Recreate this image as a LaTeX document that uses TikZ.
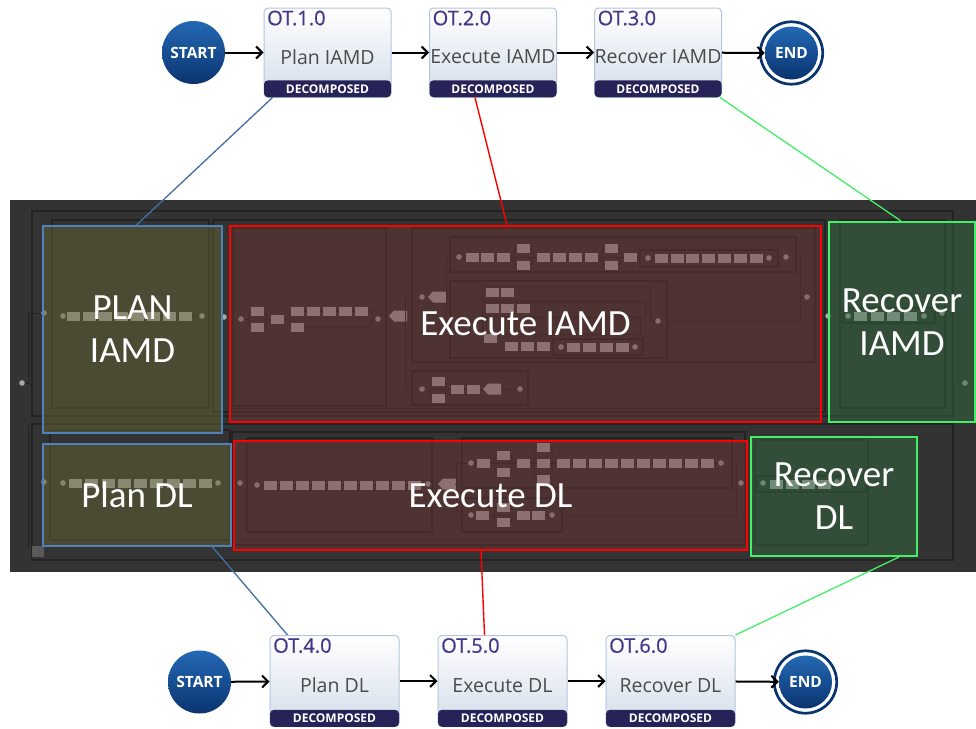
\documentclass[tikz,border=0pt]{standalone}
\usepackage{fontspec}
\setmainfont{Open Sans}
\newfontfamily\calibfont{Carlito}
\newfontfamily\idfont{Open Sans}[FakeBold=0.7]
\usetikzlibrary{arrows.meta,calc}

\definecolor{panelbg}{HTML}{333333}
\definecolor{frameln}{HTML}{232323}
\definecolor{chipc}{HTML}{B0B0B0}
\definecolor{dotc}{HTML}{A8A8A8}
\definecolor{olivetint}{RGB}{100,100,52}
\definecolor{maroontint}{RGB}{108,52,52}
\definecolor{greentint}{RGB}{52,106,62}
\definecolor{planblue}{HTML}{4F81BD}
\definecolor{execred}{HTML}{FF0000}
\definecolor{recgreen}{HTML}{44EE66}
\definecolor{boxedge}{HTML}{B4C6DC}
\definecolor{boxbot}{HTML}{D3DDEA}
\definecolor{idpurple}{HTML}{44388C}
\definecolor{lblgray}{HTML}{4A4A4A}
\definecolor{bandnavy}{HTML}{272358}
\definecolor{evdark}{HTML}{0A3470}
\definecolor{evlight}{HTML}{2468B4}

\newcommand\pchip[2]{\fill[chipc] ({#1-6.5},{#2-4.5}) rectangle ++(13,9);}
\newcommand\pdot[2]{\fill[dotc] (#1,#2) circle[radius=2.8pt];}
\newcommand\ptag[2]{\fill[chipc] ({#1-9},#2) -- ({#1-4},{#2-5.5}) -- ({#1+9},{#2-5.5}) -- ({#1+9},{#2+5.5}) -- ({#1-4},{#2+5.5}) -- cycle;}

\tikzset{
  otbox/.style={draw=boxedge, line width=1pt, rounded corners=4pt, top color=white,
    bottom color=boxbot, minimum width=127pt, minimum height=89pt, inner sep=0pt},
  otband/.style={fill=bandnavy, rounded corners=4pt, minimum width=127pt, minimum height=17pt,
    inner sep=0pt, text=white, font=\fontsize{12}{12}\selectfont\bfseries},
  otid/.style={text=idpurple, inner sep=0pt, font=\idfont\fontsize{20}{22}\selectfont},
  otlbl/.style={text=lblgray, inner sep=0pt, font=\fontsize{19.5}{22}\selectfont},
  startev/.style={circle, inner sep=0pt, minimum size=63pt, top color=evlight, bottom color=evdark,
    text=white, font=\fontsize{15.5}{16}\selectfont\bfseries},
  endev/.style={circle, inner sep=0pt, minimum size=53pt, top color=evlight, bottom color=evdark,
    text=white, font=\fontsize{15.5}{16}\selectfont\bfseries},
  flow/.style={line width=2pt, -{Straight Barb[length=6pt,width=12pt]}},
  frm/.style={draw=frameln, line width=1.1pt},
  lnk/.style={draw=frameln, line width=1pt},
  ovl/.style={fill opacity=0.5, text opacity=1, text=white, align=center, inner sep=0pt,
    font=\calibfont\fontsize{37}{43}\selectfont},
  ovplan/.style={ovl, fill=olivetint, draw=planblue, draw opacity=1, line width=1.5pt},
  ovexec/.style={ovl, fill=maroontint, draw=execred, draw opacity=1, line width=2pt},
  ovrec/.style={ovl, fill=greentint, draw=recgreen, draw opacity=1, line width=2pt},
  linkblue/.style={draw=planblue!85!black, line width=1.3pt},
  linkred/.style={draw=execred, line width=1.4pt},
  linkgreen/.style={draw=recgreen, line width=1.3pt},
}

\begin{document}
\begin{tikzpicture}[x=1pt,y=-1pt]
\useasboundingbox (0,0) rectangle (976,728);
\fill[white] (0,0) rectangle (976,728);

% ---------- upper flow ----------
\node[startev] (s1) at (193.5,52.5) {START};
\node[otbox] (ot1) at (327.5,52.5) {};
\node[otbox] (ot2) at (493,52.5) {};
\node[otbox] (ot3) at (658,52.5) {};
\node[endev] (e1) at (791.5,53) {END};
\draw[evdark, line width=2.7pt] (e1.center) circle[radius=31.2pt];

\foreach \b/\id/\lbl in {ot1/OT.1.0/Plan IAMD, ot2/OT.2.0/Execute IAMD, ot3/OT.3.0/Recover IAMD}{
  \node[otband, anchor=south] (\b band) at (\b.south) {DECOMPOSED};
  \node[otid, anchor=north west] (\b id) at ([xshift=3.5pt,yshift=-3pt]\b.north west) {\id};
  \node[otlbl] (\b lbl) at ([yshift=-4.5pt]\b.center) {\lbl};
}
\draw[flow] (s1) -- (ot1);
\draw[flow] (ot1) -- (ot2);
\draw[flow] (ot2) -- (ot3);
\draw[flow] (ot3) -- (e1);

% ---------- lower flow ----------
\node[startev] (s2) at (199.5,682) {START};
\node[otbox, minimum width=129pt, minimum height=91pt] (ot4) at (334.5,681) {};
\node[otbox, minimum width=129pt, minimum height=91pt] (ot5) at (502.5,681) {};
\node[otbox, minimum width=129pt, minimum height=91pt] (ot6) at (670.5,681) {};
\node[endev] (e2) at (805.5,682) {END};
\draw[evdark, line width=2.7pt] (e2.center) circle[radius=31.2pt];

\foreach \b/\id/\lbl in {ot4/OT.4.0/Plan DL, ot5/OT.5.0/Execute DL, ot6/OT.6.0/Recover DL}{
  \node[otband, anchor=south, minimum width=129pt] (\b band) at (\b.south) {DECOMPOSED};
  \node[otid, anchor=north west] (\b id) at ([xshift=3.5pt,yshift=-3pt]\b.north west) {\id};
  \node[otlbl] (\b lbl) at ([yshift=-4.5pt]\b.center) {\lbl};
}
\draw[flow] (s2) -- (ot4);
\draw[flow] (ot4) -- (ot5);
\draw[flow] (ot5) -- (ot6);
\draw[flow] (ot6) -- (e2);

% ---------- process model panel ----------
\fill[panelbg] (10,200) rectangle (976,572);

% frames of the nested sub-processes
\draw[frm] (32,211) rectangle (953,416);
\draw[frm] (32,424) rectangle (953,560);
\draw[frm] (52,220) rectangle (209,408);
\draw[frm] (213,220) rectangle (825,412);
\draw[frm] (233,228) rectangle (386,406);
\draw[frm] (412,228) rectangle (815,362);
\draw[frm] (450,237) rectangle (796,272);
\draw[frm] (640,250) rectangle (778,267);
\draw[frm] (450,281) rectangle (667,358);
\draw[frm] (553,339) rectangle (643,355);
\draw[frm] (412,371) rectangle (528,405);
\draw[frm] (840,220) rectangle (945,408);
\draw[frm] (843,308) rectangle (935,323);
\draw[frm] (50,430) rectangle (230,540);
\draw[frm] (232,432) rectangle (745,545);
\draw[frm] (247,438) rectangle (432,532);
\draw[frm] (462,438) rectangle (732,488);
\draw[frm] (462,498) rectangle (562,532);
\draw[frm] (755,440) rectangle (868,545);
\draw[frm] (757,476) rectangle (866,492);
\draw[lnk] (230,408) -- (822,408);
\draw[lnk] (230,415) -- (822,415);
\draw[lnk] (232,540) -- (745,540);

% start of the whole model
\draw[lnk] (22,383) -- (28,383) -- (28,313) -- (44,313);
\draw[lnk] (28,425) -- (28,548);
\pdot{22}{383}

% plan IAMD row
\draw[lnk] (63,316) -- (202,316);
\pdot{44}{313}\pdot{63}{316}
\foreach \x in {73,89,105,121,137,153,169,185}{\pchip{\x}{316}}
\pdot{202}{316}\pdot{224}{317}

% execute IAMD, first block
\draw[lnk] (241,319) -- (249,319);
\draw[lnk, rounded corners=3pt] (249,311) rectangle (266,327);
\draw[lnk] (266,319) -- (290,319);
\draw[lnk, rounded corners=3pt] (290,311) -- (290,327) -- (372,327) -- (372,319);
\draw[lnk] (290,311) -- (372,311) -- (372,319) -- (378,319);
\pdot{241}{319}
\pchip{257}{311}\pchip{257}{327}\pchip{277}{319}
\foreach \x in {297,313,329,345,361}{\pchip{\x}{311}}
\pchip{297}{327}
\pdot{378}{319}
\ptag{398}{316}

% execute IAMD, parallel blocks
\draw[lnk] (405,297) -- (405,389);
\draw[lnk] (405,297) -- (412,297);
\draw[lnk] (405,389) -- (412,389);
\pdot{422}{297}\ptag{437}{297}
\draw[lnk] (446,297) -- (446,257) -- (450,257);
\draw[lnk] (446,297) -- (446,321) -- (450,321);
\draw[lnk] (459,257) -- (786,257);
\draw[lnk, rounded corners=3pt] (514,248) rectangle (532,265);
\draw[lnk, rounded corners=3pt] (602,248) rectangle (620,265);
\pdot{459}{257}
\foreach \x in {472,487,503}{\pchip{\x}{257}}
\pchip{523}{248}\pchip{523}{265}
\foreach \x in {543,559,575,591}{\pchip{\x}{257}}
\pchip{611}{248}\pchip{611}{265}
\pchip{630}{257}
\pdot{648}{258}
\foreach \x in {661,677,692,708,724,740,756}{\pchip{\x}{258}}
\pdot{769}{258}
\pdot{786}{257}
\draw[lnk] (796,257) -- (800,257) -- (800,321) -- (667,321);
\draw[lnk] (800,297) -- (807,297);
\pdot{807}{297}
\draw[lnk] (482,286) rectangle (650,300);
\draw[lnk] (482,302) rectangle (645,316);
\draw[lnk] (482,318) rectangle (640,334);
\draw[lnk] (470,321) -- (482,321);
\draw[lnk] (650,300) -- (650,321) -- (658,321);
\pchip{492}{292}\pchip{507}{292}
\pchip{492}{308}\pchip{507}{308}\pchip{523}{308}
\pchip{490}{338}
\pchip{511}{346}\pchip{527}{346}\pchip{543}{346}
\pdot{561}{347}
\foreach \x in {573,589,606,622}{\pchip{\x}{347}}
\pdot{635}{347}
\pdot{658}{321}
\draw[lnk] (430,389) -- (520,389);
\draw[lnk, rounded corners=3pt] (430,381) rectangle (446,398);
\pdot{422}{389}
\pchip{438}{381}\pchip{438}{398}
\pchip{457}{389}\pchip{473}{389}
\ptag{492}{389}
\pdot{520}{389}

% recover IAMD
\pdot{828}{316}
\pdot{848}{316}
\foreach \x in {860,877,893,910}{\pchip{\x}{316}}
\pdot{924}{316}
\pdot{942}{313}
\draw[lnk] (953,313) -- (958,313) -- (958,383);
\pdot{965}{383}

% plan DL row
\draw[lnk] (63,483) -- (218,483);
\pdot{44}{482}\pdot{63}{483}
\foreach \x in {75,91,108,124,140,156,173,189,205}{\pchip{\x}{483}}
\pdot{218}{483}

% execute DL
\draw[lnk] (257,485) -- (428,485);
\pdot{240}{483}\pdot{257}{485}
\foreach \x in {270,286,302,318,334,350,366,382,398,414}{\pchip{\x}{485}}
\pdot{428}{484}
\ptag{447}{484}
\draw[lnk] (455,484) -- (456,484) (456,463) -- (456,515);
\draw[lnk] (456,463) -- (721,463);
\draw[lnk] (456,515) -- (552,515);
\draw[lnk, rounded corners=3pt] (494,455) rectangle (512,472);
\draw[lnk, rounded corners=3pt] (534,447) rectangle (552,479);
\draw[lnk, rounded corners=3pt] (494,507) rectangle (512,522);
\pdot{471}{463}\pchip{483}{463}
\pchip{503}{455}\pchip{503}{472}\pchip{523}{463}
\pchip{543}{447}\pchip{543}{463}\pchip{543}{479}
\foreach \x in {563,579,595,611,627,643,659,675,691,707}{\pchip{\x}{463}}
\pdot{721}{463}
\pdot{471}{515}\pchip{482}{515}
\pchip{503}{507}\pchip{503}{522}
\pchip{523}{515}\pchip{538}{515}
\pdot{552}{515}
\draw[lnk] (732,463) -- (736,463) -- (736,515) -- (562,515);
\pdot{741}{483}

% recover DL
\pdot{763}{483}
\foreach \x in {776,792,808,824}{\pchip{\x}{484}}
\pdot{837}{482}
\fill[gray!70!black] (32,546) rectangle (44,557);

% ---------- highlighted phases ----------
\node[ovplan, minimum width=179pt, minimum height=207pt] (planI) at (132.5,329.5) {PLAN\\IAMD};
\node[ovexec, minimum width=591pt, minimum height=196pt] (exeI) at (525.5,324) {Execute IAMD};
\node[ovrec, minimum width=146pt, minimum height=200pt] (recI) at (902,322) {Recover\\IAMD};
\node[ovplan, minimum width=188pt, minimum height=102pt] (planD) at (137,495) {Plan DL};
\node[ovexec, minimum width=513pt, minimum height=109pt] (exeD) at (490.5,495.5) {Execute DL};
\node[ovrec, minimum width=166pt, minimum height=119pt] (recD) at (834,496.5) {Recover\\DL};

% ---------- links from tasks to phases ----------
\draw[linkblue] ([xshift=9pt]ot1.south west) -- ([xshift=94pt]planI.north west);
\draw[linkred] ([xshift=46pt]ot2.south west) -- ([xshift=278pt]exeI.north west);
\draw[linkgreen] ([xshift=-2pt]ot3.south east) -- ([xshift=73pt]recI.north west);
\draw[linkblue] ([xshift=170pt]planD.south west) -- ([xshift=18pt]ot4.north west);
\draw[linkred] ([xshift=248pt]exeD.south west) -- ([xshift=47pt]ot5.north west);
\draw[linkgreen] ([xshift=149pt]recD.south west) -- (ot6.north east);
\end{tikzpicture}
\end{document}
